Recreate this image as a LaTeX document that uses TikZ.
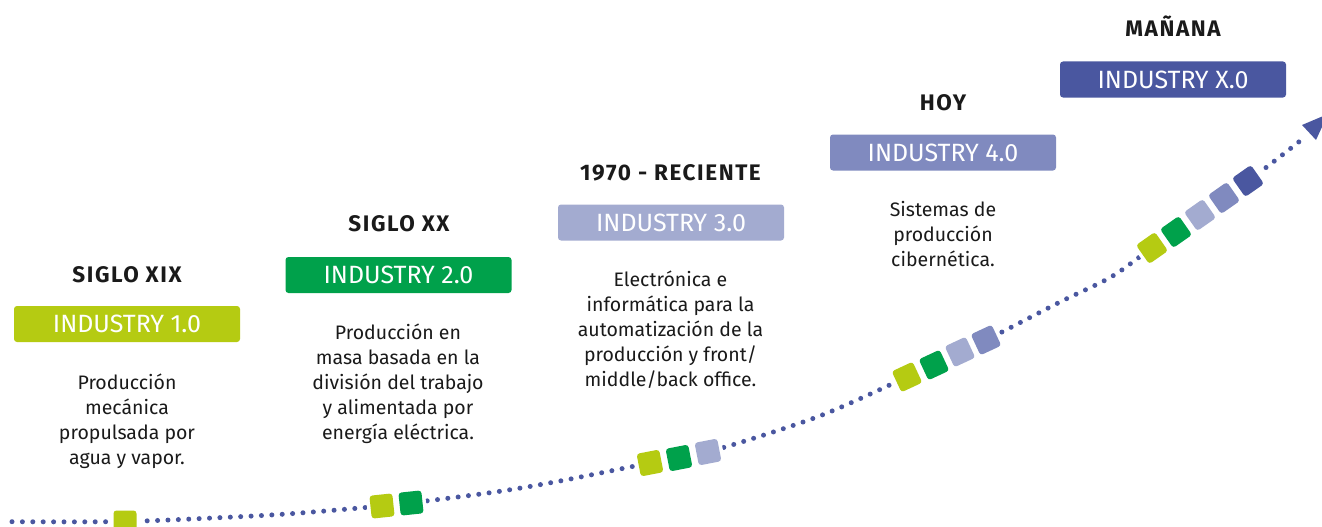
\documentclass[tikz,border=0pt]{standalone}
\usepackage{fontspec}
\setmainfont{Fira Sans}
\definecolor{cA}{HTML}{B5CB12}
\definecolor{cB}{HTML}{00A14B}
\definecolor{cC}{HTML}{A3ABD0}
\definecolor{cD}{HTML}{808ABF}
\definecolor{cE}{HTML}{4A57A0}
\definecolor{txt}{HTML}{1A1A1A}
\begin{document}
\begin{tikzpicture}[x=1pt,y=-1pt,
  ttl/.style={font=\bfseries\fontsize{22.5}{26}\selectfont\addfontfeature{LetterSpace=7}, text=txt, anchor=base, inner sep=0},
  ibox/.style={fill=#1, rounded corners=3pt, minimum width=226pt, minimum height=36pt,
    text=white, font=\fontsize{25}{28}\selectfont, inner sep=0},
  desc/.style={align=center, font=\fontsize{19.5}{25}\selectfont, text=txt, anchor=base, inner sep=0},
  sq/.style={fill=#1, minimum size=23pt, inner sep=0, rounded corners=3pt,
    preaction={draw=white, line width=7pt}},
  dotline/.style={draw=cE, line width=5pt, line cap=round, dash pattern=on 0pt off 10.4pt}
]
\useasboundingbox (0,0) rectangle (1322,527);
% dotted curve
\draw[dotline] plot[smooth, tension=0.5] coordinates {(12,521.7) (125,521.5) (233,517) (300,513) (396,504.5) (495,492) (560,481) (650,463) (708,452) (817,417) (907,377) (986,340) (1060,302) (1111,277) (1152,248) (1248,181) (1305,137)};
\fill[cE] (1302,125) -- (1328,114) -- (1316,140) -- cycle;
% squares
\node[sq=cA] (s11) at (125,522) {};
\node[sq=cA, rotate=6] (s21) at (382,506) {};
\node[sq=cB, rotate=6] (s22) at (411,503) {};
\node[sq=cA, rotate=11] (s31) at (650,463) {};
\node[sq=cB, rotate=11] (s32) at (679,458) {};
\node[sq=cC, rotate=11] (s33) at (708,452) {};
\node[sq=cA, rotate=25] (s41) at (907,377) {};
\node[sq=cB, rotate=25] (s42) at (934,365) {};
\node[sq=cC, rotate=25] (s43) at (960,352) {};
\node[sq=cD, rotate=25] (s44) at (986,340) {};
\node[sq=cA, rotate=35] (s51) at (1152,248) {};
\node[sq=cB, rotate=35] (s52) at (1176,232) {};
\node[sq=cC, rotate=35] (s53) at (1200,215) {};
\node[sq=cD, rotate=35] (s54) at (1224,198) {};
\node[sq=cE, rotate=35] (s55) at (1248,181) {};
% titles
\node[ttl] (t1) at (127,282) {SIGLO XIX};
\node[ttl] (t2) at (399,231.5) {SIGLO XX};
\node[ttl] (t3) at (670.5,180) {1970 - RECIENTE};
\node[ttl] (t4) at (943,110) {HOY};
\node[ttl] (t5) at (1173,37) {MAÑANA};
% boxes
\node[ibox=cA] (b1) at (127,324) {INDUSTRY 1.0};
\node[ibox=cB] (b2) at (398.5,275) {INDUSTRY 2.0};
\node[ibox=cC] (b3) at (671,222.5) {INDUSTRY 3.0};
\node[ibox=cD] (b4) at (943,152.5) {INDUSTRY 4.0};
\node[ibox=cE] (b5) at (1173,79.5) {INDUSTRY X.0};
% descriptions (base = last line)
\node[desc] (d1) at (127,464) {Producción\\mecánica\\propulsada por\\agua y vapor.};
\node[desc] (d2) at (398,439) {Producción en\\masa basada en la\\división del trabajo\\y alimentada por\\energía eléctrica.};
\node[desc] (d3) at (670.5,386.5) {Electrónica e\\informática para la\\automatización de la\\producción y front/\\middle/back office.};
\node[desc] (d4) at (943,266.5) {Sistemas de\\producción\\cibernética.};
\end{tikzpicture}
\end{document}
